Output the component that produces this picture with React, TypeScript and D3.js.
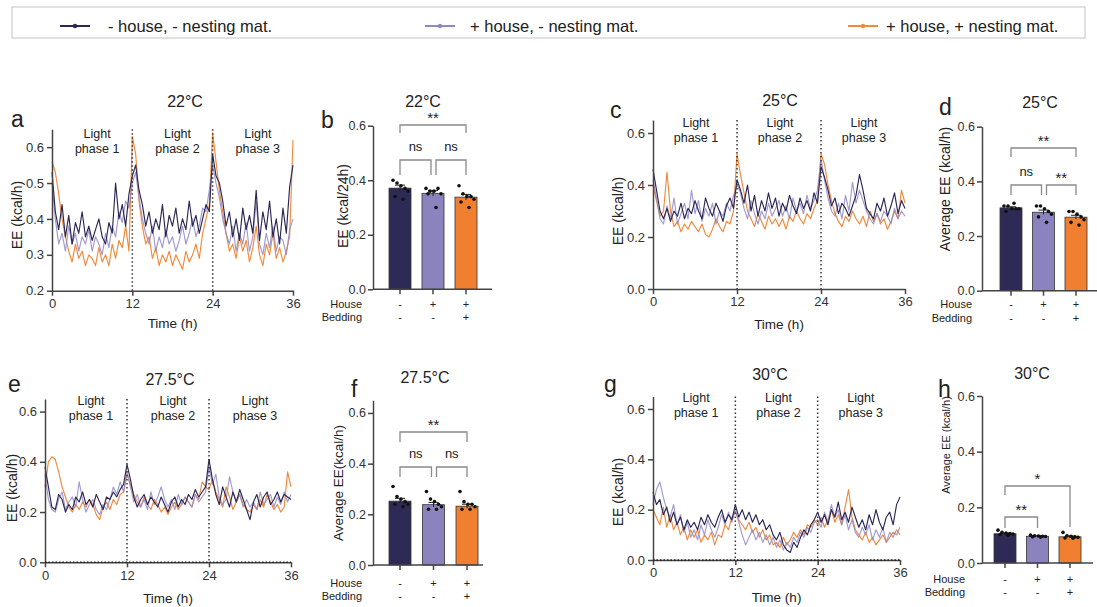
import React, { useEffect, useRef } from 'react';
import * as d3 from 'd3';

const FONT = "'Liberation Sans', Arial, Helvetica, sans-serif";

const groups = ['noHouse', 'house', 'houseNest'];
const houseRow = ['-', '+', '+'];
const beddingRow = ['-', '-', '+'];
const legendLabels = ['- house, - nesting mat.', '+ house, - nesting mat.', '+ house, + nesting mat.'];
const lineColors = ['#2c2753', '#8f88c6', '#f08a3c'];
const barColors = ['#2e2a56', '#8a83be', '#f07f30'];
const timeTicks = [0, 12, 24, 36];
const phaseNames = ['phase 1', 'phase 2', 'phase 3'];
const timeStep = 0.5; // h between two points of a trace

// EE traces (kcal/h), one point every 30 min from 0 to 36 h
const ee22Dark = [
  0.53, 0.42, 0.37, 0.44, 0.35, 0.41, 0.33, 0.39, 0.36, 0.42, 0.35, 0.38,
  0.34, 0.37, 0.40, 0.35, 0.33, 0.39, 0.36, 0.50, 0.40, 0.44, 0.38, 0.47,
  0.52, 0.55, 0.48, 0.44, 0.38, 0.42, 0.36, 0.40, 0.37, 0.44, 0.35, 0.41,
  0.38, 0.43, 0.36, 0.40, 0.37, 0.45, 0.38, 0.41, 0.36, 0.40, 0.44, 0.42,
  0.58, 0.52, 0.50, 0.45, 0.38, 0.42, 0.35, 0.40, 0.34, 0.43, 0.37, 0.41,
  0.36, 0.48, 0.34, 0.42, 0.37, 0.45, 0.35, 0.40, 0.33, 0.43, 0.36, 0.49,
  0.55,
];
const ee22Light = [
  0.50, 0.40, 0.33, 0.36, 0.31, 0.38, 0.33, 0.36, 0.31, 0.35, 0.33, 0.37,
  0.31, 0.35, 0.33, 0.30, 0.36, 0.32, 0.38, 0.35, 0.42, 0.39, 0.45, 0.43,
  0.50, 0.53, 0.46, 0.40, 0.36, 0.33, 0.38, 0.31, 0.35, 0.32, 0.37, 0.33,
  0.35, 0.31, 0.34, 0.38, 0.33, 0.36, 0.40, 0.35, 0.38, 0.43, 0.42, 0.48,
  0.55, 0.50, 0.46, 0.40, 0.36, 0.33, 0.38, 0.31, 0.36, 0.33, 0.39, 0.31,
  0.35, 0.45, 0.33, 0.30, 0.36, 0.32, 0.38, 0.31, 0.35, 0.34, 0.30, 0.37,
  0.40,
];
const ee22Orange = [
  0.56, 0.53, 0.47, 0.40, 0.35, 0.31, 0.28, 0.33, 0.29, 0.31, 0.27, 0.30,
  0.29, 0.27, 0.32, 0.28, 0.30, 0.27, 0.33, 0.29, 0.34, 0.32, 0.38, 0.31,
  0.63, 0.58, 0.45, 0.38, 0.33, 0.35, 0.29, 0.32, 0.27, 0.30, 0.28, 0.31,
  0.27, 0.30, 0.28, 0.26, 0.31, 0.28, 0.30, 0.33, 0.29, 0.36, 0.40, 0.44,
  0.64, 0.56, 0.48, 0.42, 0.36, 0.31, 0.33, 0.29, 0.35, 0.31, 0.34, 0.28,
  0.32, 0.38, 0.30, 0.27, 0.33, 0.30, 0.36, 0.29, 0.32, 0.28, 0.31, 0.35,
  0.62,
];

const ee25Dark = [
  0.46, 0.38, 0.30, 0.27, 0.31, 0.26, 0.30, 0.28, 0.33, 0.27, 0.31, 0.29,
  0.34, 0.30, 0.27, 0.35, 0.31, 0.28, 0.33, 0.30, 0.26, 0.32, 0.35, 0.31,
  0.42, 0.38, 0.33, 0.40, 0.30, 0.36, 0.28, 0.34, 0.30, 0.37, 0.31, 0.35,
  0.28, 0.33, 0.30, 0.36, 0.32, 0.29, 0.35, 0.31, 0.34, 0.30, 0.37, 0.33,
  0.47, 0.43, 0.38, 0.32, 0.35, 0.29, 0.33, 0.31, 0.28, 0.32, 0.36, 0.44,
  0.38, 0.31, 0.29, 0.27, 0.33, 0.30, 0.35, 0.28, 0.32, 0.37, 0.29, 0.34,
  0.31,
];
const ee25Light = [
  0.42, 0.35, 0.27, 0.25, 0.32, 0.27, 0.35, 0.25, 0.29, 0.33, 0.27, 0.38,
  0.29, 0.34, 0.26, 0.31, 0.28, 0.33, 0.25, 0.30, 0.28, 0.33, 0.30, 0.36,
  0.40, 0.37, 0.31, 0.27, 0.34, 0.29, 0.25, 0.30, 0.27, 0.33, 0.28, 0.31,
  0.34, 0.28, 0.32, 0.27, 0.35, 0.30, 0.33, 0.29, 0.36, 0.31, 0.34, 0.38,
  0.50, 0.42, 0.35, 0.30, 0.28, 0.33, 0.27, 0.36, 0.30, 0.41, 0.33, 0.38,
  0.34, 0.30, 0.27, 0.25, 0.29, 0.26, 0.30, 0.28, 0.25, 0.31, 0.27, 0.30,
  0.28,
];
const ee25Orange = [
  0.40, 0.34, 0.28, 0.30, 0.45, 0.30, 0.24, 0.26, 0.22, 0.25, 0.23, 0.26,
  0.24, 0.22, 0.25, 0.21, 0.20, 0.23, 0.27, 0.24, 0.22, 0.26, 0.25, 0.30,
  0.52, 0.44, 0.37, 0.30, 0.27, 0.24, 0.29, 0.26, 0.23, 0.28, 0.25, 0.27,
  0.24, 0.27, 0.23, 0.28, 0.26, 0.30, 0.27, 0.25, 0.29, 0.27, 0.31, 0.34,
  0.52, 0.48, 0.40, 0.34, 0.29, 0.26, 0.24, 0.28, 0.26, 0.30, 0.27, 0.25,
  0.28, 0.24, 0.30, 0.26, 0.29, 0.25, 0.27, 0.23, 0.26, 0.30, 0.27, 0.38,
  0.33,
];

const ee275Dark = [
  0.38, 0.30, 0.22, 0.21, 0.27, 0.25, 0.20, 0.23, 0.21, 0.26, 0.24, 0.28,
  0.23, 0.25, 0.22, 0.27, 0.24, 0.21, 0.26, 0.25, 0.28, 0.26, 0.29, 0.31,
  0.39, 0.33, 0.26, 0.22, 0.25, 0.27, 0.23, 0.26, 0.24, 0.22, 0.26, 0.23,
  0.20, 0.24, 0.26, 0.22, 0.25, 0.23, 0.27, 0.25, 0.29, 0.26, 0.28, 0.30,
  0.41, 0.33, 0.27, 0.23, 0.30, 0.26, 0.22, 0.28, 0.24, 0.29, 0.25, 0.21,
  0.17, 0.24, 0.27, 0.22, 0.26, 0.28, 0.23, 0.25, 0.28, 0.24, 0.27, 0.26,
  0.25,
];
const ee275Light = [
  0.35, 0.25, 0.21, 0.20, 0.25, 0.28, 0.21, 0.24, 0.26, 0.22, 0.32, 0.25,
  0.20, 0.23, 0.25, 0.21, 0.19, 0.23, 0.21, 0.25, 0.30, 0.27, 0.32, 0.28,
  0.36, 0.30, 0.24, 0.27, 0.22, 0.25, 0.21, 0.28, 0.23, 0.26, 0.30, 0.25,
  0.22, 0.25, 0.21, 0.27, 0.23, 0.26, 0.24, 0.22, 0.27, 0.24, 0.26, 0.28,
  0.38, 0.31, 0.35, 0.26, 0.23, 0.25, 0.34, 0.28, 0.24, 0.27, 0.22, 0.25,
  0.22, 0.24, 0.21, 0.28, 0.23, 0.25, 0.27, 0.22, 0.26, 0.23, 0.28, 0.24,
  0.27,
];
const ee275Orange = [
  0.30, 0.40, 0.42, 0.41, 0.36, 0.30, 0.26, 0.22, 0.20, 0.23, 0.21, 0.24,
  0.22, 0.25, 0.23, 0.19, 0.17, 0.22, 0.24, 0.21, 0.25, 0.23, 0.27, 0.28,
  0.35, 0.31, 0.27, 0.24, 0.22, 0.26, 0.23, 0.21, 0.25, 0.23, 0.20, 0.22,
  0.19, 0.22, 0.24, 0.21, 0.23, 0.26, 0.24, 0.22, 0.27, 0.25, 0.32, 0.30,
  0.29, 0.33, 0.28, 0.25, 0.22, 0.30, 0.26, 0.21, 0.24, 0.27, 0.23, 0.21,
  0.20, 0.23, 0.21, 0.25, 0.22, 0.27, 0.24, 0.21, 0.23, 0.20, 0.22, 0.36,
  0.30,
];

const ee30Dark = [
  0.27, 0.22, 0.24, 0.18, 0.21, 0.15, 0.19, 0.14, 0.17, 0.12, 0.16, 0.13,
  0.15, 0.12, 0.17, 0.14, 0.18, 0.15, 0.13, 0.17, 0.20, 0.15, 0.18, 0.16,
  0.22, 0.17, 0.20, 0.16, 0.19, 0.15, 0.18, 0.14, 0.16, 0.12, 0.14, 0.10,
  0.08, 0.11, 0.06, 0.04, 0.03, 0.07, 0.05, 0.09, 0.12, 0.10, 0.14, 0.16,
  0.19, 0.15, 0.18, 0.14, 0.20, 0.17, 0.23, 0.16, 0.19, 0.15, 0.21, 0.17,
  0.13, 0.16, 0.12, 0.18, 0.14, 0.20, 0.15, 0.12, 0.17, 0.19, 0.14, 0.22,
  0.25,
];
const ee30Light = [
  0.22, 0.28, 0.31, 0.25, 0.20, 0.17, 0.22, 0.14, 0.18, 0.11, 0.15, 0.09,
  0.12, 0.08, 0.14, 0.10, 0.16, 0.12, 0.09, 0.13, 0.18, 0.14, 0.19, 0.15,
  0.20, 0.15, 0.10, 0.06, 0.09, 0.12, 0.08, 0.11, 0.07, 0.10, 0.06, 0.09,
  0.05, 0.08, 0.04, 0.07, 0.05, 0.09, 0.07, 0.11, 0.09, 0.13, 0.11, 0.15,
  0.16, 0.13, 0.19, 0.15, 0.22, 0.17, 0.20, 0.14, 0.18, 0.12, 0.16, 0.11,
  0.09, 0.13, 0.10, 0.14, 0.08, 0.12, 0.09, 0.13, 0.07, 0.11, 0.09, 0.12,
  0.10,
];
const ee30Orange = [
  0.20, 0.17, 0.14, 0.21, 0.13, 0.18, 0.12, 0.15, 0.10, 0.13, 0.08, 0.12,
  0.09, 0.12, 0.07, 0.10, 0.08, 0.11, 0.06, 0.10, 0.09, 0.14, 0.12, 0.17,
  0.19, 0.16, 0.14, 0.12, 0.15, 0.11, 0.13, 0.09, 0.12, 0.08, 0.10, 0.06,
  0.07, 0.05, 0.09, 0.06, 0.08, 0.11, 0.09, 0.12, 0.10, 0.14, 0.13, 0.16,
  0.14, 0.17, 0.13, 0.16, 0.20, 0.15, 0.18, 0.14, 0.21, 0.28, 0.17, 0.12,
  0.10, 0.08, 0.11, 0.07, 0.09, 0.06, 0.08, 0.10, 0.07, 0.09, 0.11, 0.10,
  0.13,
];

// average EE per group: mean, SEM and single animals
const mean22 = [0.371, 0.352, 0.338];
const sem22 = [0.011, 0.010, 0.010];
const animals22 = [
  [0.40, 0.39, 0.38, 0.37, 0.36, 0.34, 0.33],
  [0.37, 0.36, 0.36, 0.37, 0.35, 0.35, 0.30],
  [0.38, 0.35, 0.34, 0.34, 0.33, 0.32, 0.30],
];
const mean25 = [0.303, 0.287, 0.269];
const sem25 = [0.004, 0.008, 0.007];
const animals25 = [
  [0.31, 0.31, 0.30, 0.30, 0.30, 0.29, 0.32],
  [0.31, 0.31, 0.30, 0.29, 0.28, 0.27, 0.25],
  [0.29, 0.29, 0.28, 0.27, 0.26, 0.25, 0.24],
];
const mean275 = [0.252, 0.238, 0.232];
const sem275 = [0.011, 0.009, 0.008];
const animals275 = [
  [0.31, 0.27, 0.26, 0.25, 0.24, 0.24, 0.23],
  [0.29, 0.26, 0.25, 0.24, 0.23, 0.22, 0.22],
  [0.29, 0.25, 0.24, 0.24, 0.23, 0.22, 0.22],
];
const mean30 = [0.105, 0.096, 0.094];
const sem30 = [0.003, 0.002, 0.003];
const animals30 = [
  [0.118, 0.110, 0.108, 0.106, 0.104, 0.102, 0.100],
  [0.100, 0.098, 0.097, 0.096, 0.095, 0.094, 0.093],
  [0.110, 0.098, 0.096, 0.094, 0.092, 0.090, 0.089],
];

const jitter = [-7, -3, 1, 5, 8, -5, 3];

function styleAxis(sel, size = 13) {
  sel.attr('font-size', size).attr('font-family', FONT);
  sel.select('.domain').attr('stroke', '#444').attr('stroke-width', 1.5);
  sel.selectAll('.tick line').attr('stroke', '#444').attr('stroke-width', 1.5);
  sel.selectAll('.tick text').attr('fill', '#333');
}

function addText(g, x, y, str, size, anchor = 'middle') {
  return g.append('text')
    .attr('x', x).attr('y', y)
    .attr('font-family', FONT)
    .attr('font-size', size)
    .attr('fill', '#222')
    .attr('text-anchor', anchor)
    .text(str);
}

function addRotated(g, x, y, str, size) {
  g.append('text')
    .attr('transform', `translate(${x},${y}) rotate(-90)`)
    .attr('font-family', FONT)
    .attr('font-size', size)
    .attr('fill', '#222')
    .attr('text-anchor', 'middle')
    .text(str);
}

function drawTrace(svg, p) {
  const x = d3.scaleLinear().domain([0, 36]).range([p.x0, p.x1]);
  const y = d3.scaleLinear().domain(p.yDomain).range([p.yBottom, p.yTop]);
  const g = svg.append('g');

  const line = d3.line().x((d, i) => x(i * timeStep)).y(d => y(d));
  [2, 1, 0].forEach(k => {
    g.append('path')
      .datum(p.series[k])
      .attr('d', line)
      .attr('fill', 'none')
      .attr('stroke', lineColors[k])
      .attr('stroke-width', 1.15)
      .attr('stroke-linejoin', 'round')
      .attr('opacity', k === 1 ? 0.85 : 1);
  });

  [12, 24].forEach(t => {
    g.append('line')
      .attr('x1', x(t)).attr('x2', x(t))
      .attr('y1', p.yTop).attr('y2', p.yBottom)
      .attr('stroke', '#333').attr('stroke-width', 1.5)
      .attr('stroke-dasharray', '1.5,2.5');
  });

  const yAxis = g.append('g')
    .attr('transform', `translate(${p.x0},0)`)
    .call(d3.axisLeft(y).tickValues(p.yTicks).tickFormat(d3.format('.1f')).tickSize(5).tickSizeOuter(0));
  styleAxis(yAxis);
  const xAxis = g.append('g')
    .attr('transform', `translate(0,${p.yBottom})`)
    .call(d3.axisBottom(x).tickValues(timeTicks).tickSize(5).tickSizeOuter(0));
  styleAxis(xAxis);

  if (p.zeroLine) {
    g.append('line')
      .attr('x1', p.x0).attr('x2', p.x1)
      .attr('y1', y(0)).attr('y2', y(0))
      .attr('stroke', '#222').attr('stroke-width', 1.5)
      .attr('stroke-dasharray', '1.5,2');
  }

  [6, 18, 30].forEach((t, i) => {
    addText(g, x(t) + p.phaseOffset, p.phaseY[0], 'Light', 12.5);
    addText(g, x(t) + p.phaseOffset, p.phaseY[1], phaseNames[i], 12.5);
  });

  addText(g, p.titleX, p.titleY, p.title, 16);
  addText(g, p.letterX, p.letterY, p.letter, 23, 'start');
  addText(g, (p.x0 + p.x1) / 2, p.timeY, 'Time (h)', 13.5);
  addRotated(g, p.yLabelX, p.yLabelY, 'EE (kcal/h)', 14);
}

function drawBars(svg, p) {
  const x = d3.scalePoint().domain(groups).range([p.xFirst, p.xLast]);
  const y = d3.scaleLinear().domain([0, p.yMax]).range([p.y0, p.yTop]);
  const bw = 22;
  const g = svg.append('g');

  g.selectAll('.bar')
    .data(p.means)
    .enter()
    .append('rect')
    .attr('x', (d, i) => x(groups[i]) - bw / 2)
    .attr('y', d => y(d))
    .attr('width', bw)
    .attr('height', d => p.y0 - y(d))
    .attr('fill', (d, i) => barColors[i])
    .attr('stroke', '#333')
    .attr('stroke-width', 0.8);

  p.means.forEach((m, i) => {
    const cx = x(groups[i]);
    g.append('line')
      .attr('x1', cx).attr('x2', cx)
      .attr('y1', y(m - p.sems[i])).attr('y2', y(m + p.sems[i]))
      .attr('stroke', '#222').attr('stroke-width', 1);
    g.append('line')
      .attr('x1', cx - 5).attr('x2', cx + 5)
      .attr('y1', y(m + p.sems[i])).attr('y2', y(m + p.sems[i]))
      .attr('stroke', '#222').attr('stroke-width', 1);
    p.animals[i].forEach((v, j) => {
      g.append('circle')
        .attr('cx', cx + jitter[j])
        .attr('cy', y(v))
        .attr('r', 1.8)
        .attr('fill', '#111');
    });
  });

  const yAxis = g.append('g')
    .attr('transform', `translate(${p.axisX},0)`)
    .call(d3.axisLeft(y).tickValues([0, 0.2, 0.4, 0.6]).tickFormat(d3.format('.1f'))
      .tickSize(5).tickPadding(2).tickSizeOuter(0));
  styleAxis(yAxis, 12.5);
  g.append('line')
    .attr('x1', p.axisX).attr('x2', p.xEnd)
    .attr('y1', p.y0).attr('y2', p.y0)
    .attr('stroke', '#444').attr('stroke-width', 1.5);
  groups.forEach((k, i) => {
    g.append('line')
      .attr('x1', x(k)).attr('x2', x(k))
      .attr('y1', p.y0).attr('y2', p.y0 + 5)
      .attr('stroke', '#444').attr('stroke-width', 1.5);
    addText(g, x(k), p.rowY[0], houseRow[i], 11);
    addText(g, x(k), p.rowY[1], beddingRow[i], 11);
  });
  addText(g, p.rowLabelX, p.rowY[0], 'House', 11, 'end');
  addText(g, p.rowLabelX, p.rowY[1], 'Bedding', 11, 'end');

  p.brackets.forEach(b => {
    const xa = x(groups[b.a]) + (b.da || 0);
    const xb = x(groups[b.b]) + (b.db || 0);
    g.append('path')
      .attr('d', `M${xa},${b.legA}V${b.y}H${xb}V${b.legB}`)
      .attr('fill', 'none')
      .attr('stroke', '#8a8a8a')
      .attr('stroke-width', 1.3);
    const star = b.label.indexOf('*') >= 0;
    addText(g, (xa + xb) / 2, star ? b.y - 2 : b.y - 9, b.label, star ? 15 : 13);
  });

  addText(g, p.titleX, p.titleY, p.title, 16);
  addText(g, p.letterX, p.letterY, p.letter, 23, 'start');
  addRotated(g, p.yLabelX, p.yLabelY, p.yLabel, p.yLabelSize);
}

export default function App() {
  const ref = useRef(null);

  useEffect(() => {
    const svg = d3.select(ref.current);
    svg.selectAll('*').remove();
    svg.append('rect').attr('width', 1097).attr('height', 607).attr('fill', '#fff');

    // legend
    svg.append('rect')
      .attr('x', 12).attr('y', 7).attr('width', 1073).attr('height', 31)
      .attr('fill', '#fff').attr('stroke', '#c4c4c4').attr('stroke-width', 1);
    const markerX = [60, 425, 848];
    const labelX = [108, 470, 886];
    legendLabels.forEach((lab, i) => {
      svg.append('line')
        .attr('x1', markerX[i]).attr('x2', markerX[i] + 30)
        .attr('y1', 26).attr('y2', 26)
        .attr('stroke', lineColors[i]).attr('stroke-width', 2);
      svg.append('circle')
        .attr('cx', markerX[i] + 15).attr('cy', 26).attr('r', 2.2)
        .attr('fill', lineColors[i]);
      addText(svg, labelX[i], 32, lab, 16.5, 'start');
    });

    drawTrace(svg, {
      series: [ee22Dark, ee22Light, ee22Orange],
      x0: 52, x1: 293, yDomain: [0.2, 0.65], yBottom: 290.7, yTop: 129.2,
      yTicks: [0.2, 0.3, 0.4, 0.5, 0.6],
      title: '22°C', titleX: 185, titleY: 107, letter: 'a', letterX: 11, letterY: 127,
      phaseOffset: 5, phaseY: [138, 153], timeY: 328, yLabelX: 22, yLabelY: 215,
    });
    drawTrace(svg, {
      series: [ee25Dark, ee25Light, ee25Orange],
      x0: 653, x1: 905, yDomain: [0, 0.65], yBottom: 289, yTop: 120,
      yTicks: [0, 0.2, 0.4, 0.6],
      title: '25°C', titleX: 780, titleY: 106, letter: 'c', letterX: 610, letterY: 118,
      phaseOffset: 1, phaseY: [127, 142], timeY: 329, yLabelX: 623, yLabelY: 211,
    });
    drawTrace(svg, {
      series: [ee275Dark, ee275Light, ee275Orange],
      x0: 45, x1: 291, yDomain: [0, 0.65], yBottom: 562.3, yTop: 399,
      yTicks: [0, 0.2, 0.4, 0.6], zeroLine: true,
      title: '27.5°C', titleX: 170, titleY: 385, letter: 'e', letterX: 8, letterY: 392,
      phaseOffset: 5, phaseY: [405, 420], timeY: 603, yLabelX: 17, yLabelY: 488,
    });
    drawTrace(svg, {
      series: [ee30Dark, ee30Light, ee30Orange],
      x0: 653, x1: 900, yDomain: [0, 0.65], yBottom: 560, yTop: 396.4,
      yTicks: [0, 0.2, 0.4, 0.6], zeroLine: true,
      title: '30°C', titleX: 770, titleY: 380, letter: 'g', letterX: 604, letterY: 392,
      phaseOffset: 2, phaseY: [402, 417], timeY: 602, yLabelX: 623, yLabelY: 492,
    });

    drawBars(svg, {
      means: mean22, sems: sem22, animals: animals22,
      axisX: 373, xFirst: 400, xLast: 466, xEnd: 492, y0: 289.3, yMax: 0.6, yTop: 125.7,
      title: '22°C', titleX: 423, titleY: 107, letter: 'b', letterX: 321, letterY: 128,
      yLabel: 'EE (kcal/24h)', yLabelX: 348, yLabelY: 206, yLabelSize: 14,
      rowLabelX: 362, rowY: [308, 321],
      brackets: [
        { a: 0, b: 2, y: 125, legA: 133, legB: 133, label: '**' },
        { a: 0, b: 1, y: 160, legA: 175, legB: 175, db: -2, label: 'ns' },
        { a: 1, b: 2, y: 160, legA: 175, legB: 175, da: 3, label: 'ns' },
      ],
    });
    drawBars(svg, {
      means: mean25, sems: sem25, animals: animals25,
      axisX: 982, xFirst: 1011, xLast: 1076, xEnd: 1097, y0: 290.7, yMax: 0.6, yTop: 126.7,
      title: '25°C', titleX: 1040, titleY: 108, letter: 'd', letterX: 939, letterY: 115,
      yLabel: 'Average EE (kcal/h)', yLabelX: 950, yLabelY: 189, yLabelSize: 14,
      rowLabelX: 972, rowY: [308, 322],
      brackets: [
        { a: 0, b: 2, y: 148, legA: 157, legB: 157, label: '**' },
        { a: 0, b: 1, y: 185, legA: 195, legB: 195, db: -2, label: 'ns' },
        { a: 1, b: 2, y: 185, legA: 195, legB: 195, da: 3, label: '**' },
      ],
    });
    drawBars(svg, {
      means: mean275, sems: sem275, animals: animals275,
      axisX: 373, xFirst: 400, xLast: 467, xEnd: 483, y0: 565, yMax: 0.65, yTop: 400.3,
      title: '27.5°C', titleX: 425, titleY: 383, letter: 'f', letterX: 351, letterY: 397,
      yLabel: 'Average EE(kcal/h)', yLabelX: 343, yLabelY: 483, yLabelSize: 13.5,
      rowLabelX: 362, rowY: [587, 600],
      brackets: [
        { a: 0, b: 2, y: 432, legA: 442, legB: 442, label: '**' },
        { a: 0, b: 1, y: 467, legA: 477, legB: 477, db: -2, label: 'ns' },
        { a: 1, b: 2, y: 467, legA: 477, legB: 477, da: 3, label: 'ns' },
      ],
    });
    drawBars(svg, {
      means: mean30, sems: sem30, animals: animals30,
      axisX: 982, xFirst: 1005, xLast: 1070, xEnd: 1093, y0: 563, yMax: 0.6, yTop: 396,
      title: '30°C', titleX: 1032, titleY: 379, letter: 'h', letterX: 938, letterY: 397,
      yLabel: 'Average EE (kcal/h)', yLabelX: 950, yLabelY: 445, yLabelSize: 11,
      rowLabelX: 965, rowY: [583, 596],
      brackets: [
        { a: 0, b: 2, y: 486, legA: 495, legB: 527, label: '*' },
        { a: 0, b: 1, y: 517, legA: 528, legB: 528, label: '**' },
      ],
    });
  }, []);

  return (
    <svg ref={ref} width={1097} height={607}
         style={{ position: 'absolute', left: 0, top: 0 }} />
  );
}
